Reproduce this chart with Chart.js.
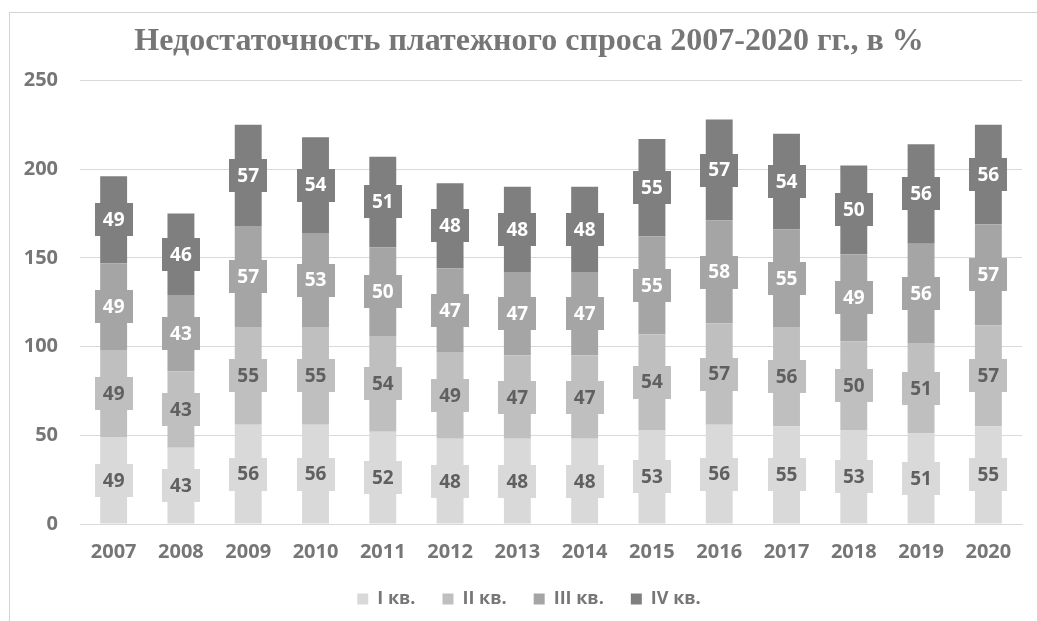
<!DOCTYPE html>
<html>
<head>
<meta charset="utf-8">
<script src="https://cdn.jsdelivr.net/npm/chart.js@4.4.1/dist/chart.umd.min.js"></script>
<style>
  html, body { margin: 0; padding: 0; background: #ffffff; overflow: hidden; }
  #frame { position: absolute; left: 9px; top: 12px; width: 1100px; height: 700px; border: 1px solid #d4d4d4; }
  #wrap { position: absolute; left: 0; top: 0; width: 1037px; height: 650px; }
</style>
</head>
<body>
<div id="frame"></div>
<div id="wrap"><canvas id="c"></canvas></div>
<script>
const years = ['2007','2008','2009','2010','2011','2012','2013','2014','2015','2016','2017','2018','2019','2020'];
const q1 = [49, 43, 56, 56, 52, 48, 48, 48, 53, 56, 55, 53, 51, 55];
const q2 = [49, 43, 55, 55, 54, 49, 47, 47, 54, 57, 56, 50, 51, 57];
const q3 = [49, 43, 57, 53, 50, 47, 47, 47, 55, 58, 55, 49, 56, 57];
const q4 = [49, 46, 57, 54, 51, 48, 48, 48, 55, 57, 54, 50, 56, 56];
const seriesNames = ['I кв.', 'II кв.', 'III кв.', 'IV кв.'];
const yTicks = [0, 50, 100, 150, 200, 250];
const titleText = 'Недостаточность платежного спроса 2007-2020 гг., в %';

const colors = ['#d9d9d9', '#bfbfbf', '#a5a5a5', '#7f7f7f'];
const labelColors = ['#606060', '#606060', '#ffffff', '#ffffff'];
const textGray = '#767676';

const labelPlugin = {
  id: 'boxLabels',
  afterDatasetsDraw(chart) {
    const ctx = chart.ctx;
    ctx.save();
    ctx.font = 'bold 19px "Open Sans"';
    ctx.textAlign = 'center';
    ctx.textBaseline = 'middle';
    chart.data.datasets.forEach((ds, di) => {
      const meta = chart.getDatasetMeta(di);
      if (meta.hidden) return;
      meta.data.forEach((el, i) => {
        const cx = el.x;
        const cy = (el.y + el.base) / 2;
        const w = 38, h = 33;
        ctx.fillStyle = colors[di];
        ctx.fillRect(Math.round(cx - w / 2), Math.round(cy - h / 2), w, h);
        ctx.fillStyle = labelColors[di];
        ctx.fillText(String(ds.data[i]), cx, cy + 1);
      });
    });
    ctx.restore();
  }
};

// Center title and legend over the plot area, like the reference
const shiftPlugin = {
  id: 'shiftBlocks',
  afterLayout(chart) {
    const dx = 18;
    if (chart.titleBlock) { chart.titleBlock.left += dx; chart.titleBlock.right += dx; }
    if (chart.legend) { chart.legend.left += dx; chart.legend.right += dx; }
  }
};

const allSeries = [q1, q2, q3, q4];
new Chart(document.getElementById('c'), {
  type: 'bar',
  data: {
    labels: years,
    datasets: allSeries.map((d, i) => ({
      label: seriesNames[i],
      data: d,
      backgroundColor: colors[i],
      borderWidth: 0,
      barPercentage: 0.4,
      categoryPercentage: 1.0
    }))
  },
  options: {
    responsive: true,
    maintainAspectRatio: false,
    animation: false,
    layout: { padding: { left: 0, right: 15, top: 0, bottom: 32 } },
    plugins: {
      title: {
        display: true,
        text: titleText,
        color: textGray,
        font: { family: '"Liberation Serif", "Times New Roman", serif', size: 32, weight: 'bold' },
        padding: { top: 23, bottom: 19 }
      },
      legend: {
        position: 'bottom',
        labels: {
          color: textGray,
          font: { family: '"Open Sans"', size: 18, weight: 'bold' },
          boxWidth: 11,
          boxHeight: 11,
          padding: 27
        }
      },
      tooltip: { enabled: false }
    },
    scales: {
      x: {
        stacked: true,
        grid: { display: false, drawTicks: false },
        border: { display: true, color: '#d9d9d9', width: 1 },
        ticks: {
          color: textGray,
          font: { family: '"Open Sans"', size: 20, weight: 'bold' },
          padding: 16,
          maxRotation: 0
        },
        afterFit(scale) { scale.height = 39; }
      },
      y: {
        stacked: true,
        min: 0,
        max: 250,
        afterBuildTicks(scale) { scale.ticks = yTicks.map(v => ({ value: v })); },
        grid: { color: '#d9d9d9', lineWidth: 1, drawTicks: false },
        border: { display: false },
        ticks: {
          color: textGray,
          font: { family: '"Open Sans"', size: 20, weight: 'bold' },
          padding: 22
        },
        afterFit(scale) { scale.width = 80; }
      }
    }
  },
  plugins: [labelPlugin, shiftPlugin]
});
</script>
</body>
</html>
